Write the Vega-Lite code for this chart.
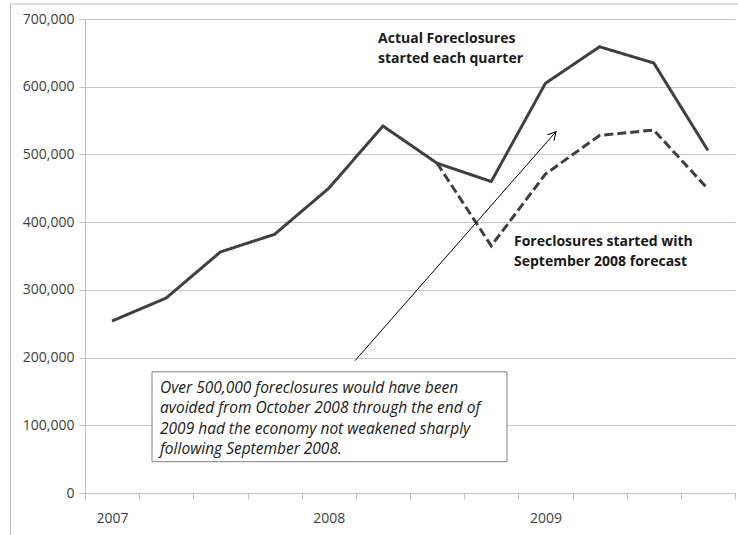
{
  "$schema": "https://vega.github.io/schema/vega-lite/v6.json",
  "width": 650,
  "height": 474,
  "autosize": "none",
  "padding": {"left": 85, "top": 19, "right": 3, "bottom": 42},
  "background": "white",
  "config": {"view": {"stroke": null}, "font": "Open Sans"},
  "datasets": {
    "foreclosures": [
      {"n": 1, "quarter": "2007 Q1", "series": "Actual", "value": 254000},
      {"n": 2, "quarter": "2007 Q2", "series": "Actual", "value": 288000},
      {"n": 3, "quarter": "2007 Q3", "series": "Actual", "value": 356000},
      {"n": 4, "quarter": "2007 Q4", "series": "Actual", "value": 382000},
      {"n": 5, "quarter": "2008 Q1", "series": "Actual", "value": 450000},
      {"n": 6, "quarter": "2008 Q2", "series": "Actual", "value": 542000},
      {"n": 7, "quarter": "2008 Q3", "series": "Actual", "value": 487000},
      {"n": 8, "quarter": "2008 Q4", "series": "Actual", "value": 460000},
      {"n": 9, "quarter": "2009 Q1", "series": "Actual", "value": 605000},
      {"n": 10, "quarter": "2009 Q2", "series": "Actual", "value": 659000},
      {"n": 11, "quarter": "2009 Q3", "series": "Actual", "value": 635000},
      {"n": 12, "quarter": "2009 Q4", "series": "Actual", "value": 506000},
      {"n": 7, "quarter": "2008 Q3", "series": "Forecast", "value": 487000},
      {"n": 8, "quarter": "2008 Q4", "series": "Forecast", "value": 365000},
      {"n": 9, "quarter": "2009 Q1", "series": "Forecast", "value": 471000},
      {"n": 10, "quarter": "2009 Q2", "series": "Forecast", "value": 528000},
      {"n": 11, "quarter": "2009 Q3", "series": "Forecast", "value": 536000},
      {"n": 12, "quarter": "2009 Q4", "series": "Forecast", "value": 449000}
    ]
  },
  "layer": [
    {
      "data": {"values": [{}]},
      "mark": {"type": "rect", "fill": null, "stroke": "#bfbfbf", "strokeWidth": 1},
      "encoding": {
        "x": {"datum": -0.875, "type": "quantitative", "scale": {"domain": [0.5, 12.5], "nice": false, "zero": false},
          "axis": {"title": null, "grid": false, "domainColor": "#bfbfbf", "tickColor": "#bfbfbf", "tickSize": 6,
            "values": [0.5, 1, 1.5, 2, 2.5, 3, 3.5, 4, 4.5, 5, 5.5, 6, 6.5, 7, 7.5, 8, 8.5, 9, 9.5, 10, 10.5, 11, 11.5, 12, 12.5],
            "labelExpr": "datum.value == 1 ? '2007' : datum.value == 5 ? '2008' : datum.value == 9 ? '2009' : ''",
            "tickOpacity": {"condition": {"test": "datum.value % 1 === 0", "value": 0}, "value": 1},
            "labelOverlap": false, "labelFlush": false, "labelFont": "Open Sans", "labelFontSize": 14, "labelColor": "#404040", "labelPadding": 12}},
        "x2": {"datum": 12.62},
        "y": {"datum": 722200, "type": "quantitative", "scale": {"domain": [0, 700000], "nice": false},
          "axis": {"title": null, "grid": true, "gridColor": "#c6c6c6", "domainColor": "#bfbfbf", "tickColor": "#bfbfbf", "tickSize": 6,
            "values": [0, 100000, 200000, 300000, 400000, 500000, 600000, 700000], "format": ",.0f",
            "labelOverlap": false, "labelFlush": false, "labelFont": "Open Sans", "labelFontSize": 14, "labelColor": "#404040", "labelPadding": 5}},
        "y2": {"datum": -80000}
      }
    },
    {
      "data": {"name": "foreclosures"},
      "mark": {"type": "line", "color": "#404040", "strokeWidth": 3},
      "encoding": {
        "x": {"field": "n", "type": "quantitative", "scale": {"domain": [0.5, 12.5], "nice": false, "zero": false},
          "axis": {"title": null, "grid": false, "domainColor": "#bfbfbf", "tickColor": "#bfbfbf", "tickSize": 6,
            "values": [0.5, 1, 1.5, 2, 2.5, 3, 3.5, 4, 4.5, 5, 5.5, 6, 6.5, 7, 7.5, 8, 8.5, 9, 9.5, 10, 10.5, 11, 11.5, 12, 12.5],
            "labelExpr": "datum.value == 1 ? '2007' : datum.value == 5 ? '2008' : datum.value == 9 ? '2009' : ''",
            "tickOpacity": {"condition": {"test": "datum.value % 1 === 0", "value": 0}, "value": 1},
            "labelOverlap": false, "labelFlush": false, "labelFont": "Open Sans", "labelFontSize": 14, "labelColor": "#404040", "labelPadding": 12}},
        "y": {"field": "value", "type": "quantitative", "scale": {"domain": [0, 700000], "nice": false},
          "axis": {"title": null, "grid": true, "gridColor": "#c6c6c6", "domainColor": "#bfbfbf", "tickColor": "#bfbfbf", "tickSize": 6,
            "values": [0, 100000, 200000, 300000, 400000, 500000, 600000, 700000], "format": ",.0f",
            "labelOverlap": false, "labelFlush": false, "labelFont": "Open Sans", "labelFontSize": 14, "labelColor": "#404040", "labelPadding": 5}},
        "strokeDash": {"field": "series", "type": "nominal", "scale": {"domain": ["Actual", "Forecast"], "range": [[1, 0], [9, 4]]}, "legend": null}
      }
    },
    {
      "data": {"values": [{}]},
      "mark": {"type": "rect", "fill": "white", "stroke": "#7f7f7f", "strokeWidth": 1},
      "encoding": {
        "x": {"datum": 1.737, "type": "quantitative", "scale": {"domain": [0.5, 12.5], "nice": false, "zero": false},
          "axis": {"title": null, "grid": false, "domainColor": "#bfbfbf", "tickColor": "#bfbfbf", "tickSize": 6,
            "values": [0.5, 1, 1.5, 2, 2.5, 3, 3.5, 4, 4.5, 5, 5.5, 6, 6.5, 7, 7.5, 8, 8.5, 9, 9.5, 10, 10.5, 11, 11.5, 12, 12.5],
            "labelExpr": "datum.value == 1 ? '2007' : datum.value == 5 ? '2008' : datum.value == 9 ? '2009' : ''",
            "tickOpacity": {"condition": {"test": "datum.value % 1 === 0", "value": 0}, "value": 1},
            "labelOverlap": false, "labelFlush": false, "labelFont": "Open Sans", "labelFontSize": 14, "labelColor": "#404040", "labelPadding": 12}},
        "x2": {"datum": 8.29},
        "y": {"datum": 179000, "type": "quantitative", "scale": {"domain": [0, 700000], "nice": false},
          "axis": {"title": null, "grid": true, "gridColor": "#c6c6c6", "domainColor": "#bfbfbf", "tickColor": "#bfbfbf", "tickSize": 6,
            "values": [0, 100000, 200000, 300000, 400000, 500000, 600000, 700000], "format": ",.0f",
            "labelOverlap": false, "labelFlush": false, "labelFont": "Open Sans", "labelFontSize": 14, "labelColor": "#404040", "labelPadding": 5}},
        "y2": {"datum": 46200}
      }
    },
    {
      "data": {"values": [{}]},
      "mark": {
        "type": "text", "align": "left", "baseline": "middle", "fontStyle": "italic", "fontSize": 15.5, "lineHeight": 20.5, "color": "#1a1a1a",
        "text": ["Over 500,000 foreclosures would have been", "avoided from  October 2008 through the end of", "2009 had the economy not weakened sharply", "following September 2008."]
      },
      "encoding": {
        "x": {"datum": 1.885, "type": "quantitative", "scale": {"domain": [0.5, 12.5], "nice": false, "zero": false},
          "axis": {"title": null, "grid": false, "domainColor": "#bfbfbf", "tickColor": "#bfbfbf", "tickSize": 6,
            "values": [0.5, 1, 1.5, 2, 2.5, 3, 3.5, 4, 4.5, 5, 5.5, 6, 6.5, 7, 7.5, 8, 8.5, 9, 9.5, 10, 10.5, 11, 11.5, 12, 12.5],
            "labelExpr": "datum.value == 1 ? '2007' : datum.value == 5 ? '2008' : datum.value == 9 ? '2009' : ''",
            "tickOpacity": {"condition": {"test": "datum.value % 1 === 0", "value": 0}, "value": 1},
            "labelOverlap": false, "labelFlush": false, "labelFont": "Open Sans", "labelFontSize": 14, "labelColor": "#404040", "labelPadding": 12}},
        "y": {"datum": 155500, "type": "quantitative", "scale": {"domain": [0, 700000], "nice": false},
          "axis": {"title": null, "grid": true, "gridColor": "#c6c6c6", "domainColor": "#bfbfbf", "tickColor": "#bfbfbf", "tickSize": 6,
            "values": [0, 100000, 200000, 300000, 400000, 500000, 600000, 700000], "format": ",.0f",
            "labelOverlap": false, "labelFlush": false, "labelFont": "Open Sans", "labelFontSize": 14, "labelColor": "#404040", "labelPadding": 5}}
      }
    },
    {
      "data": {"values": [{}]},
      "mark": {
        "type": "text", "align": "left", "baseline": "middle", "fontWeight": "bold", "fontSize": 14, "lineHeight": 20, "color": "#1a1a1a",
        "text": ["Actual Foreclosures", "started each quarter"]
      },
      "encoding": {
        "x": {"datum": 5.91, "type": "quantitative", "scale": {"domain": [0.5, 12.5], "nice": false, "zero": false},
          "axis": {"title": null, "grid": false, "domainColor": "#bfbfbf", "tickColor": "#bfbfbf", "tickSize": 6,
            "values": [0.5, 1, 1.5, 2, 2.5, 3, 3.5, 4, 4.5, 5, 5.5, 6, 6.5, 7, 7.5, 8, 8.5, 9, 9.5, 10, 10.5, 11, 11.5, 12, 12.5],
            "labelExpr": "datum.value == 1 ? '2007' : datum.value == 5 ? '2008' : datum.value == 9 ? '2009' : ''",
            "tickOpacity": {"condition": {"test": "datum.value % 1 === 0", "value": 0}, "value": 1},
            "labelOverlap": false, "labelFlush": false, "labelFont": "Open Sans", "labelFontSize": 14, "labelColor": "#404040", "labelPadding": 12}},
        "y": {"datum": 670500, "type": "quantitative", "scale": {"domain": [0, 700000], "nice": false},
          "axis": {"title": null, "grid": true, "gridColor": "#c6c6c6", "domainColor": "#bfbfbf", "tickColor": "#bfbfbf", "tickSize": 6,
            "values": [0, 100000, 200000, 300000, 400000, 500000, 600000, 700000], "format": ",.0f",
            "labelOverlap": false, "labelFlush": false, "labelFont": "Open Sans", "labelFontSize": 14, "labelColor": "#404040", "labelPadding": 5}}
      }
    },
    {
      "data": {"values": [{}]},
      "mark": {
        "type": "text", "align": "left", "baseline": "middle", "fontWeight": "bold", "fontSize": 14, "lineHeight": 20, "color": "#1a1a1a",
        "text": ["Foreclosures started with", "September 2008 forecast"]
      },
      "encoding": {
        "x": {"datum": 8.42, "type": "quantitative", "scale": {"domain": [0.5, 12.5], "nice": false, "zero": false},
          "axis": {"title": null, "grid": false, "domainColor": "#bfbfbf", "tickColor": "#bfbfbf", "tickSize": 6,
            "values": [0.5, 1, 1.5, 2, 2.5, 3, 3.5, 4, 4.5, 5, 5.5, 6, 6.5, 7, 7.5, 8, 8.5, 9, 9.5, 10, 10.5, 11, 11.5, 12, 12.5],
            "labelExpr": "datum.value == 1 ? '2007' : datum.value == 5 ? '2008' : datum.value == 9 ? '2009' : ''",
            "tickOpacity": {"condition": {"test": "datum.value % 1 === 0", "value": 0}, "value": 1},
            "labelOverlap": false, "labelFlush": false, "labelFont": "Open Sans", "labelFontSize": 14, "labelColor": "#404040", "labelPadding": 12}},
        "y": {"datum": 371400, "type": "quantitative", "scale": {"domain": [0, 700000], "nice": false},
          "axis": {"title": null, "grid": true, "gridColor": "#c6c6c6", "domainColor": "#bfbfbf", "tickColor": "#bfbfbf", "tickSize": 6,
            "values": [0, 100000, 200000, 300000, 400000, 500000, 600000, 700000], "format": ",.0f",
            "labelOverlap": false, "labelFlush": false, "labelFont": "Open Sans", "labelFontSize": 14, "labelColor": "#404040", "labelPadding": 5}}
      }
    },
    {
      "data": {"values": [{}]},
      "mark": {"type": "rule", "color": "black", "strokeWidth": 1},
      "encoding": {
        "x": {"datum": 5.485, "type": "quantitative", "scale": {"domain": [0.5, 12.5], "nice": false, "zero": false},
          "axis": {"title": null, "grid": false, "domainColor": "#bfbfbf", "tickColor": "#bfbfbf", "tickSize": 6,
            "values": [0.5, 1, 1.5, 2, 2.5, 3, 3.5, 4, 4.5, 5, 5.5, 6, 6.5, 7, 7.5, 8, 8.5, 9, 9.5, 10, 10.5, 11, 11.5, 12, 12.5],
            "labelExpr": "datum.value == 1 ? '2007' : datum.value == 5 ? '2008' : datum.value == 9 ? '2009' : ''",
            "tickOpacity": {"condition": {"test": "datum.value % 1 === 0", "value": 0}, "value": 1},
            "labelOverlap": false, "labelFlush": false, "labelFont": "Open Sans", "labelFontSize": 14, "labelColor": "#404040", "labelPadding": 12}},
        "y": {"datum": 195400, "type": "quantitative", "scale": {"domain": [0, 700000], "nice": false},
          "axis": {"title": null, "grid": true, "gridColor": "#c6c6c6", "domainColor": "#bfbfbf", "tickColor": "#bfbfbf", "tickSize": 6,
            "values": [0, 100000, 200000, 300000, 400000, 500000, 600000, 700000], "format": ",.0f",
            "labelOverlap": false, "labelFlush": false, "labelFont": "Open Sans", "labelFontSize": 14, "labelColor": "#404040", "labelPadding": 5}},
        "x2": {"datum": 9.195},
        "y2": {"datum": 533600}
      }
    },
    {
      "data": {"values": [{}]},
      "mark": {"type": "point", "shape": "M-0.55,1L0,0L0.55,1", "filled": false, "stroke": "black", "strokeWidth": 1, "opacity": 1, "size": 256, "angle": 41.3},
      "encoding": {
        "x": {"datum": 9.195, "type": "quantitative", "scale": {"domain": [0.5, 12.5], "nice": false, "zero": false},
          "axis": {"title": null, "grid": false, "domainColor": "#bfbfbf", "tickColor": "#bfbfbf", "tickSize": 6,
            "values": [0.5, 1, 1.5, 2, 2.5, 3, 3.5, 4, 4.5, 5, 5.5, 6, 6.5, 7, 7.5, 8, 8.5, 9, 9.5, 10, 10.5, 11, 11.5, 12, 12.5],
            "labelExpr": "datum.value == 1 ? '2007' : datum.value == 5 ? '2008' : datum.value == 9 ? '2009' : ''",
            "tickOpacity": {"condition": {"test": "datum.value % 1 === 0", "value": 0}, "value": 1},
            "labelOverlap": false, "labelFlush": false, "labelFont": "Open Sans", "labelFontSize": 14, "labelColor": "#404040", "labelPadding": 12}},
        "y": {"datum": 533600, "type": "quantitative", "scale": {"domain": [0, 700000], "nice": false},
          "axis": {"title": null, "grid": true, "gridColor": "#c6c6c6", "domainColor": "#bfbfbf", "tickColor": "#bfbfbf", "tickSize": 6,
            "values": [0, 100000, 200000, 300000, 400000, 500000, 600000, 700000], "format": ",.0f",
            "labelOverlap": false, "labelFlush": false, "labelFont": "Open Sans", "labelFontSize": 14, "labelColor": "#404040", "labelPadding": 5}}
      }
    }
  ]
}
